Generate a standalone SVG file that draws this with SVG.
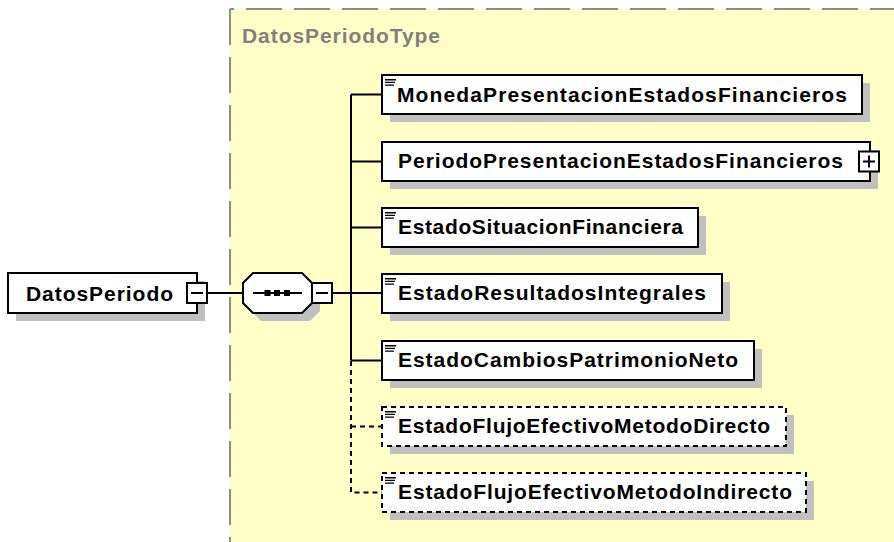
<svg xmlns="http://www.w3.org/2000/svg" width="894" height="542" viewBox="0 0 894 542">
<style>
.bg{fill:#FFFFC8;stroke:none}
.border{fill:none;stroke:#8C8C8C;stroke-width:2;stroke-dasharray:36 12}
.title{font-family:"Liberation Sans",Arial,sans-serif;font-weight:bold;font-size:21px;fill:#808080}
.lbl{font-family:"Liberation Sans",Arial,sans-serif;font-weight:bold;font-size:21px;fill:#000}
.box{fill:#fff;stroke:#000;stroke-width:2}
.opt{fill:#fff;stroke:#000;stroke-width:2;stroke-dasharray:5 4}
.sh{fill:#C0C0C0;stroke:none}
.ln{fill:none;stroke:#000;stroke-width:2}
.dl{fill:none;stroke:#000;stroke-width:2;stroke-dasharray:5 4}
.ic{fill:none;stroke:#000;stroke-width:1.4}
</style>
<defs>
<g id="icon"><path class="ic" d="M0 0.7H11M0 3.4H10M0 6.1H9"/></g>
</defs>
<g id="complexType">
<rect class="bg" x="230" y="9" width="664" height="533"/>
<path class="border" d="M230 9H894" stroke-dashoffset="32"/>
<path class="border" d="M230 9V542"/>
<text class="title" x="242" y="43" textLength="198" lengthAdjust="spacing">DatosPeriodoType</text>
</g>
<g id="connectors">
<path class="ln" d="M207 293H243"/>
<path class="ln" d="M332 293H382"/>
<path class="ln" d="M351 94.5V360.5"/>
<path class="ln" d="M351 94.5H382M351 161.5H382M351 227.5H382M351 360.5H382"/>
<path class="dl" d="M351 361V492.5H382M351 426.5H382"/>
</g>
<g id="DatosPeriodo">
<rect class="sh" x="16" y="281" width="189" height="40"/>
<rect class="box" x="8" y="273" width="189" height="40"/>
<text class="lbl" x="26" y="301" textLength="147" lengthAdjust="spacing">DatosPeriodo</text>
<rect class="box" x="187" y="283" width="20" height="20"/>
<path class="ln" d="M191 293H203"/>
</g>
<g id="sequence">
<path class="sh" d="M261 281H310L320 291V311L310 321H261L251 311V291Z"/>
<path class="box" d="M253 273H302L312 283V303L302 313H253L243 303V283Z"/>
<path class="ln" d="M253 293H302"/>
<rect x="264.5" y="290" width="6" height="6"/>
<rect x="274" y="290" width="6" height="6"/>
<rect x="284" y="290" width="6" height="6"/>
<rect class="box" x="312" y="283" width="20" height="20"/>
<path class="ln" d="M316 293H328"/>
</g>
<g id="MonedaPresentacionEstadosFinancieros">
<rect class="sh" x="390" y="83" width="480" height="39"/>
<rect class="box" x="382" y="75" width="480" height="39"/>
<use href="#icon" x="385" y="79"/>
<text class="lbl" x="397" y="102" textLength="450" lengthAdjust="spacing">MonedaPresentacionEstadosFinancieros</text>
</g>
<g id="PeriodoPresentacionEstadosFinancieros">
<rect class="sh" x="390" y="150" width="488" height="39"/>
<rect class="box" x="382" y="142" width="488" height="39"/>
<text class="lbl" x="398" y="168" textLength="445" lengthAdjust="spacing">PeriodoPresentacionEstadosFinancieros</text>
<rect class="box" x="859" y="151.5" width="20" height="20"/>
<path class="ln" d="M863 161.5H875M869 155.5V167.5"/>
</g>
<g id="EstadoSituacionFinanciera">
<rect class="sh" x="390" y="216" width="316" height="39"/>
<rect class="box" x="382" y="208" width="316" height="39"/>
<use href="#icon" x="385" y="212"/>
<text class="lbl" x="398" y="234" textLength="285" lengthAdjust="spacing">EstadoSituacionFinanciera</text>
</g>
<g id="EstadoResultadosIntegrales">
<rect class="sh" x="390" y="282" width="340" height="39"/>
<rect class="box" x="382" y="274" width="340" height="39"/>
<use href="#icon" x="385" y="278"/>
<text class="lbl" x="398" y="300" textLength="308" lengthAdjust="spacing">EstadoResultadosIntegrales</text>
</g>
<g id="EstadoCambiosPatrimonioNeto">
<rect class="sh" x="390" y="349" width="372" height="39"/>
<rect class="box" x="382" y="341" width="372" height="39"/>
<use href="#icon" x="385" y="345"/>
<text class="lbl" x="398" y="367" textLength="340" lengthAdjust="spacing">EstadoCambiosPatrimonioNeto</text>
</g>
<g id="EstadoFlujoEfectivoMetodoDirecto">
<rect class="sh" x="390" y="415" width="404" height="39"/>
<rect class="opt" x="382" y="407" width="404" height="39"/>
<use href="#icon" x="385" y="411"/>
<text class="lbl" x="398" y="433" textLength="372" lengthAdjust="spacing">EstadoFlujoEfectivoMetodoDirecto</text>
</g>
<g id="EstadoFlujoEfectivoMetodoIndirecto">
<rect class="sh" x="390" y="481" width="424" height="39"/>
<rect class="opt" x="382" y="473" width="424" height="39"/>
<use href="#icon" x="385" y="477"/>
<text class="lbl" x="398" y="499" textLength="394" lengthAdjust="spacing">EstadoFlujoEfectivoMetodoIndirecto</text>
</g>
</svg>
